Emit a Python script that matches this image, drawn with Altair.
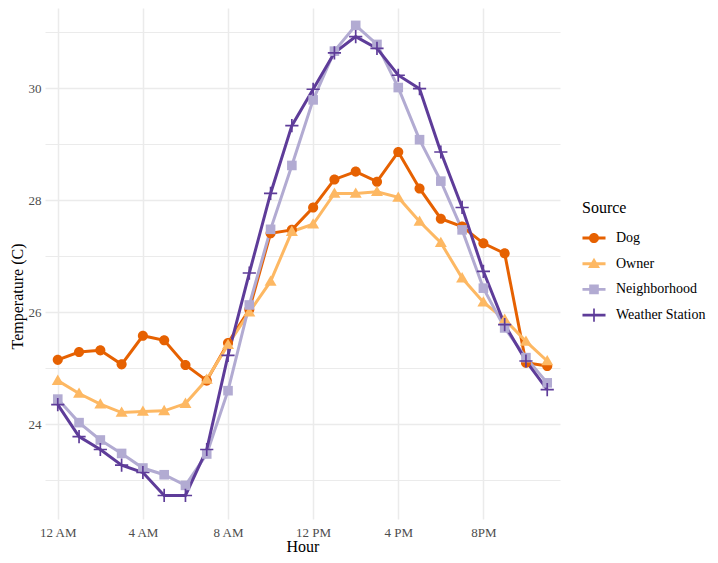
import altair as alt
import pandas as pd

hours = list(range(24))
tick_hours = [0, 4, 8, 12, 16, 20]
tick_labels = ["12 AM", "4 AM", "8 AM", "12 PM", "4 PM", "8PM"]
y_ticks = [23, 24, 25, 26, 27, 28, 29, 30, 31]
sources = ["Dog", "Owner", "Neighborhood", "Weather Station"]
colors = ["#E66101", "#FDB863", "#B2ABD2", "#5E3C99"]

dog = [25.15, 25.29, 25.32, 25.07, 25.58, 25.50, 25.06, 24.78, 25.45, 26.05, 27.41, 27.47,
       27.87, 28.37, 28.51, 28.33, 28.86, 28.21, 27.67, 27.53, 27.23, 27.05, 25.10, 25.04]
owner = [24.78, 24.55, 24.36, 24.21, 24.23, 24.24, 24.37, 24.80, 25.42, 26.00, 26.55, 27.44,
         27.57, 28.12, 28.12, 28.15, 28.05, 27.62, 27.24, 26.61, 26.18, 25.87, 25.48, 25.13]
neighborhood = [24.45, 24.03, 23.72, 23.48, 23.22, 23.10, 22.91, 23.47, 24.60, 26.13, 27.48, 28.62,
                29.79, 30.66, 31.12, 30.78, 30.01, 29.08, 28.34, 27.47, 26.43, 25.72, 25.19, 24.74]
weather = [24.35, 23.78, 23.55, 23.27, 23.14, 22.73, 22.73, 23.55, 25.23, 26.70, 28.12, 29.33,
           29.98, 30.63, 30.92, 30.71, 30.23, 29.99, 28.86, 27.87, 26.73, 25.78, 25.13, 24.62]

rows = []
for s, vals in zip(sources, [dog, owner, neighborhood, weather]):
    for h, v in zip(hours, vals):
        rows.append({"Hour": h, "Temp": v, "Source": s})
df = pd.DataFrame(rows)

# marker shapes (unit box -1..1)
circle_p = "M-0.42,0A0.42,0.42 0 1,1 0.42,0A0.42,0.42 0 1,1 -0.42,0Z"
tri_p = "M0,-0.5L0.5,0.36L-0.5,0.36Z"
square_p = "M-0.4,-0.4H0.4V0.4H-0.4Z"
cross_p = "M-0.55,-0.07H0.55V0.07H-0.55Z M-0.07,-0.55H0.07V0.55H-0.07Z"
marker_paths = [circle_p, tri_p, square_p, cross_p]
line_p = "M-0.96,-0.12H0.96V0.12H-0.96Z"
legend_paths = [line_p + " " + p for p in marker_paths]

label_expr = "''"
for h, lab in reversed(list(zip(tick_hours, tick_labels))):
    label_expr = f"datum.value == {h} ? '{lab}' : ({label_expr})"

FONT = "Liberation Serif"

x = alt.X("Hour:Q",
          scale=alt.Scale(domain=[-0.6, 23.6], nice=False, zero=False),
          axis=alt.Axis(values=tick_hours, labelExpr=label_expr, title="Hour",
                        ticks=False, domain=False, grid=True, gridColor="#EBEBEB",
                        gridWidth=1.5, labelPadding=7, labelFontSize=13,
                        labelColor="#4D4D4D", titleFontSize=16,
                        titleY=32, titleBaseline="alphabetic",
                        titleFontWeight="normal", titleColor="#000000",
                        labelFont=FONT, titleFont=FONT, labelFlush=False))
y = alt.Y("Temp:Q",
          scale=alt.Scale(domain=[22.31, 31.43], nice=False, zero=False),
          axis=alt.Axis(values=y_ticks,
                        labelExpr="datum.value % 2 == 0 ? datum.value : ''",
                        title="Temperature (C)", ticks=False, domain=False, grid=True,
                        gridColor="#EBEBEB",
                        gridWidth={"condition": {"test": "datum.value % 2 == 0", "value": 1.5},
                                   "value": 1.0},
                        labelPadding=4, labelFontSize=13, labelColor="#4D4D4D",
                        titleFontSize=16, titleX=-28, titleY=288,
                        titleBaseline="middle", titleAlign="center", titleAngle=270,
                        titleFontWeight="normal",
                        titleColor="#000000", labelFont=FONT, titleFont=FONT,
                        labelFlush=False))

color_scale = alt.Scale(domain=sources, range=colors)

base = alt.Chart(df)

lines = base.mark_line(strokeWidth=3).encode(
    x=x, y=y,
    color=alt.Color("Source:N", scale=color_scale, legend=None),
)

points = base.mark_point(filled=True, opacity=1, size=576, strokeWidth=0).encode(
    x=x, y=y,
    color=alt.Color("Source:N", scale=color_scale, legend=None),
    shape=alt.Shape("Source:N", scale=alt.Scale(domain=sources, range=marker_paths), legend=None),
)

leg = dict(title="Source", orient="none", legendX=537, legendY=192,
           titleFont=FONT, titleFontSize=16, titleFontWeight="normal", titleColor="#000000",
           labelFont=FONT, labelFontSize=14, labelColor="#000000",
           symbolSize=576, symbolStrokeWidth=0, rowPadding=6.7, titlePadding=10,
           labelOffset=10)

legend_layer = base.transform_filter("datum.Temp < 0").mark_point(
    filled=True, opacity=1, size=576, strokeWidth=0).encode(
    x=x, y=y,
    color=alt.Color("Source:N", scale=color_scale, legend=alt.Legend(**leg)),
    shape=alt.Shape("Source:N", scale=alt.Scale(domain=sources, range=legend_paths),
                    legend=alt.Legend(**leg)),
)

chart = alt.layer(lines, points, legend_layer).resolve_scale(
    color="independent", shape="independent"
).properties(
    width=515, height=511,
    autosize=alt.AutoSizeParams(type="none"),
    padding={"left": 37, "top": 0, "right": 150, "bottom": 36},
    background="#FFFFFF",
).configure(
    font=FONT
).configure_legend(
    labelFont=FONT, titleFont=FONT, labelFontSize=14, titleFontSize=16,
    titleFontWeight="normal", labelColor="#000000", titleColor="#000000"
).configure_view(stroke=None)

chart.save("out.html", embed_options={"renderer": "svg", "actions": False})
